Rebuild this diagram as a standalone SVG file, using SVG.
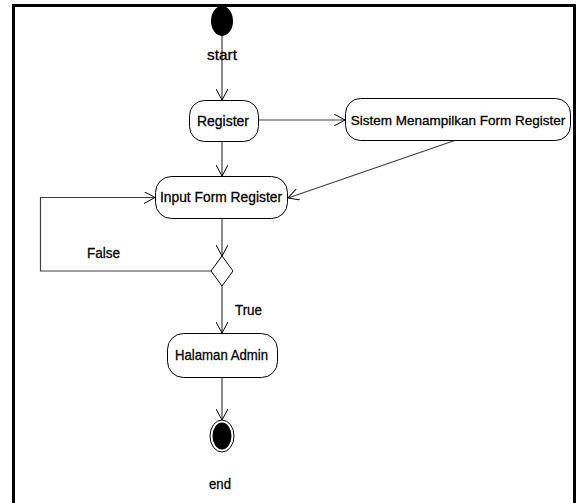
<svg xmlns="http://www.w3.org/2000/svg" width="579" height="503" viewBox="0 0 579 503">
<style>
.node{fill:#fff;stroke:#000;stroke-width:1}
.lbl{font-family:"Liberation Sans",Arial,sans-serif;font-size:15px;fill:#000;stroke:#000;stroke-width:0.3;text-anchor:middle}
.edge{fill:none;stroke:#404040;stroke-width:1.2}
</style>
<defs>
<marker id="arr" viewBox="0 0 12 12" refX="11" refY="6" markerWidth="12" markerHeight="12" markerUnits="userSpaceOnUse" orient="auto">
<path d="M0,0 L11,6 L0,12" fill="none" stroke="#000" stroke-width="1"/>
</marker>
</defs>
<rect width="579" height="503" fill="#fff"/>
<path d="M13.5,503 V5.5 H574.5 V503" fill="none" stroke="#000" stroke-width="3"/>
<g id="connectors">
<line class="edge" x1="222" y1="30" x2="222" y2="100" marker-end="url(#arr)"/>
<line class="edge" x1="258" y1="120" x2="345" y2="120" marker-end="url(#arr)"/>
<line class="edge" x1="222" y1="141" x2="222" y2="176" marker-end="url(#arr)"/>
<line class="edge" x1="459" y1="139" x2="288" y2="198" marker-end="url(#arr)"/>
<line class="edge" x1="222" y1="219" x2="222" y2="256" marker-end="url(#arr)"/>
<polyline class="edge" points="211,271 40.5,271 40.5,197.5 155,197.5" marker-end="url(#arr)"/>
<line class="edge" x1="222" y1="286" x2="222" y2="333" marker-end="url(#arr)"/>
<line class="edge" x1="222" y1="377" x2="222" y2="420" marker-end="url(#arr)"/>
<text class="lbl" x="103.5" y="258" textLength="33" lengthAdjust="spacingAndGlyphs">False</text>
<text class="lbl" x="248.5" y="315" textLength="27" lengthAdjust="spacingAndGlyphs">True</text>
</g>
<g id="start">
<ellipse cx="222" cy="21" rx="11" ry="15" fill="#000"/>
<text class="lbl" x="222" y="60" textLength="30" lengthAdjust="spacingAndGlyphs">start</text>
</g>
<g id="register">
<rect class="node" x="189.5" y="100.5" width="69" height="41" rx="15"/>
<text class="lbl" x="223" y="126" textLength="52" lengthAdjust="spacingAndGlyphs">Register</text>
</g>
<g id="sistem">
<rect class="node" x="345.5" y="98.5" width="225" height="42" rx="15"/>
<text class="lbl" x="458" y="125" style="font-size:13.5px">Sistem Menampilkan Form Register</text>
</g>
<g id="input">
<rect class="node" x="155.5" y="176.5" width="132" height="42" rx="16"/>
<text class="lbl" x="221" y="202" textLength="122" lengthAdjust="spacingAndGlyphs">Input Form Register</text>
</g>
<g id="decision">
<polygon class="node" points="222,256 233,271 222,286 211,271"/>
</g>
<g id="halaman">
<rect class="node" x="167.5" y="333.5" width="110" height="44" rx="16"/>
<text class="lbl" x="221.5" y="360" textLength="93" lengthAdjust="spacingAndGlyphs">Halaman Admin</text>
</g>
<g id="end">
<ellipse cx="222" cy="436" rx="12" ry="16" fill="#fff" stroke="#000" stroke-width="1"/>
<ellipse cx="222" cy="436" rx="9.5" ry="13.5" fill="#000"/>
<text class="lbl" x="220" y="489" textLength="22" lengthAdjust="spacingAndGlyphs">end</text>
</g>
</svg>
